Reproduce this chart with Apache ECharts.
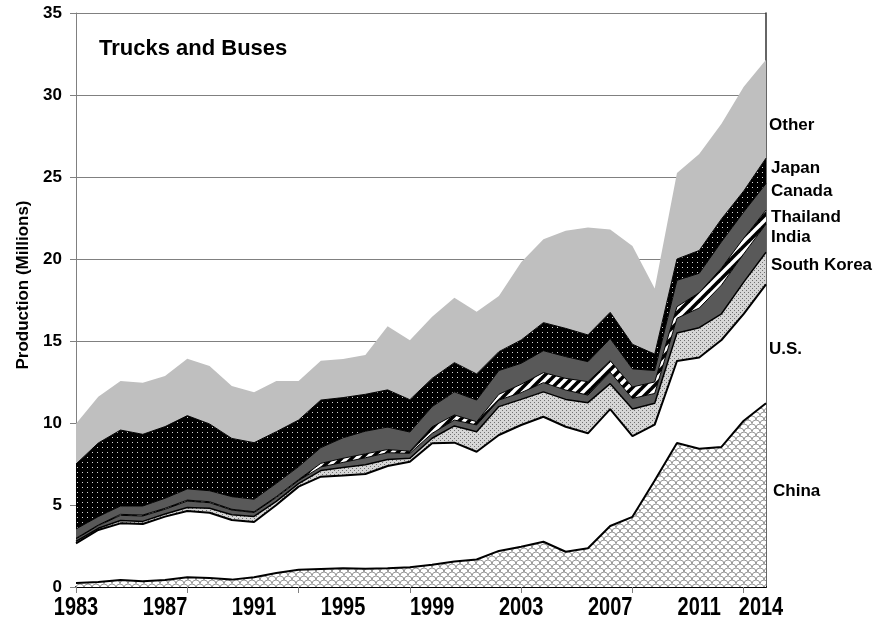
<!DOCTYPE html>
<html>
<head>
<meta charset="utf-8">
<script src="https://cdn.jsdelivr.net/npm/echarts@6/dist/echarts.min.js"></script>
<style>
html,body{margin:0;padding:0;background:#fff;}
#chart{width:876px;height:625px;}
</style>
</head>
<body>
<div id="chart"></div>
<script>
const years = ['1983','1984','1985','1986','1987','1988','1989','1990','1991','1992','1993','1994','1995','1996','1997','1998','1999','2000','2001','2002','2003','2004','2005','2006','2007','2008','2009','2010','2011','2012','2013','2014'];
const xTickLabels = ['1983','1987','1991','1995','1999','2003','2007','2011','2014'];
const yTicks = [0,5,10,15,20,25,30,35];

const china = [0.25,0.30,0.43,0.35,0.42,0.60,0.55,0.45,0.60,0.85,1.05,1.10,1.15,1.12,1.15,1.20,1.35,1.55,1.68,2.20,2.46,2.76,2.15,2.36,3.72,4.28,6.50,8.78,8.43,8.54,10.14,11.20];
const us = [2.41,3.18,3.45,3.49,3.87,4.03,3.98,3.64,3.36,4.15,5.07,5.63,5.65,5.77,6.23,6.44,7.41,7.25,6.57,7.07,7.42,7.62,7.62,7.01,7.13,4.92,3.40,5.00,5.56,6.52,6.52,7.25];
const southKorea = [0.12,0.10,0.17,0.16,0.16,0.22,0.27,0.31,0.34,0.22,0.18,0.37,0.48,0.56,0.39,0.21,0.31,1.02,1.22,1.73,1.56,1.52,1.67,1.87,1.55,1.65,1.30,1.71,1.82,1.60,1.93,1.96];
const india = [0.15,0.16,0.32,0.33,0.29,0.39,0.34,0.29,0.24,0.24,0.19,0.22,0.32,0.43,0.42,0.30,0.30,0.36,0.41,0.40,0.41,0.56,0.57,0.46,0.70,0.65,0.60,0.90,1.20,1.75,1.73,1.72];
const thailand = [0.04,0.04,0.06,0.06,0.06,0.06,0.06,0.05,0.05,0.05,0.06,0.22,0.25,0.24,0.19,0.13,0.40,0.31,0.20,0.35,0.51,0.61,0.71,0.82,0.70,0.70,0.70,0.70,0.94,1.04,0.95,0.85];
const canada = [0.57,0.51,0.51,0.55,0.61,0.68,0.67,0.77,0.76,0.81,0.79,0.96,1.25,1.38,1.37,1.17,1.23,1.41,1.32,1.45,1.28,1.34,1.33,1.22,1.35,1.10,0.70,1.61,1.18,1.60,1.60,1.62];
const japan = [3.96,4.49,4.63,4.37,4.37,4.47,4.07,3.55,3.45,3.15,2.84,2.90,2.45,2.25,2.27,1.97,1.72,1.78,1.59,1.15,1.42,1.71,1.72,1.63,1.60,1.50,1.00,1.30,1.39,1.39,1.28,1.55];
const other = [2.45,2.82,2.99,3.15,3.09,3.47,3.54,3.20,3.08,3.09,2.38,2.40,2.35,2.40,3.88,3.63,3.76,3.96,3.80,3.40,4.74,5.08,5.96,6.55,5.05,6.00,4.00,5.25,5.88,5.81,6.35,6.00];

const seriesNames = ['China','U.S.','South Korea','India','Thailand','Canada','Japan','Other'];

function pattern(w, h, draw) {
  const c = document.createElement('canvas');
  c.width = w; c.height = h;
  const g = c.getContext('2d');
  draw(g, w, h);
  return { image: c, repeat: 'repeat' };
}
const chinaFill = pattern(8, 8, function (g, w, h) {
  g.fillStyle = '#ffffff'; g.fillRect(0, 0, w, h);
  g.strokeStyle = '#8c8c8c'; g.lineWidth = 0.9;
  g.beginPath(); g.arc(4, 8, 4, Math.PI, 2 * Math.PI); g.stroke();
  g.beginPath(); g.arc(0, 4, 4, Math.PI, 2 * Math.PI); g.stroke();
  g.beginPath(); g.arc(8, 4, 4, Math.PI, 2 * Math.PI); g.stroke();
});
const skFill = pattern(4, 4, function (g, w, h) {
  g.fillStyle = '#d6d6d6'; g.fillRect(0, 0, w, h);
  g.fillStyle = '#707070'; g.fillRect(0, 0, 1, 1); g.fillRect(2, 2, 1, 1);
});
const japanFill = pattern(5, 5, function (g, w, h) {
  g.fillStyle = '#000000'; g.fillRect(0, 0, w, h);
  g.fillStyle = '#d8d8d8'; g.fillRect(2, 2, 1, 1);
});
const thaiFill = pattern(10, 10, function (g, w, h) {
  g.fillStyle = '#ffffff'; g.fillRect(0, 0, w, h);
  g.strokeStyle = '#000000'; g.lineWidth = 3.6;
  for (let k = -10; k <= 20; k += 10) {
    g.beginPath(); g.moveTo(k - 2, h + 2); g.lineTo(k + w + 2, -2); g.stroke();
  }
});

const fills = [chinaFill, '#ffffff', skFill, '#595959', thaiFill, '#595959', japanFill, '#bfbfbf'];
const lineWidths = [2, 2, 1.5, 1, 1, 1, 1, 0];
const values = [china, us, southKorea, india, thailand, canada, japan, other];

const chart = echarts.init(document.getElementById('chart'), null, { renderer: 'canvas' });
const FONT = 'Liberation Sans, Arial, sans-serif';

const labelGraphics = [
  { type: 'text', left: 769, top: 117, style: { text: 'Other', font: 'bold 17px ' + FONT, fill: '#000' } },
  { type: 'text', left: 771, top: 160, style: { text: 'Japan', font: 'bold 17px ' + FONT, fill: '#000' } },
  { type: 'text', left: 771, top: 183, style: { text: 'Canada', font: 'bold 17px ' + FONT, fill: '#000' } },
  { type: 'text', left: 771, top: 209, style: { text: 'Thailand', font: 'bold 17px ' + FONT, fill: '#000' } },
  { type: 'text', left: 771, top: 229, style: { text: 'India', font: 'bold 17px ' + FONT, fill: '#000' } },
  { type: 'text', left: 771, top: 257, style: { text: 'South Korea', font: 'bold 17px ' + FONT, fill: '#000' } },
  { type: 'text', left: 769, top: 341, style: { text: 'U.S.', font: 'bold 17px ' + FONT, fill: '#000' } },
  { type: 'text', left: 773, top: 483, style: { text: 'China', font: 'bold 17px ' + FONT, fill: '#000' } }
];

const option = {
  animation: false,
  backgroundColor: '#ffffff',
  title: {
    text: 'Trucks and Buses', left: 94, top: 33,
    textStyle: { fontFamily: FONT, fontWeight: 'bold', fontSize: 22, color: '#000' }
  },
  grid: { left: 76, right: 110, top: 13, bottom: 38, containLabel: false },
  xAxis: {
    type: 'category', data: years, boundaryGap: false,
    axisLine: { show: true, lineStyle: { color: '#000', width: 2 } },
    axisTick: { show: true, length: 6, interval: function (i) { return i % 5 === 0; }, lineStyle: { color: '#808080', width: 1 } },
    axisLabel: { show: false },
    splitLine: { show: false }
  },
  yAxis: [{
    type: 'value', min: 0, max: 35, interval: 5,
    name: 'Production (Millions)', nameLocation: 'middle', nameGap: 44, nameRotate: 90,
    nameTextStyle: { fontFamily: FONT, fontWeight: 'bold', fontSize: 17, color: '#000', padding: [0, 0, 0, 30] },
    axisLine: { show: true, lineStyle: { color: '#808080', width: 1 } },
    axisTick: { show: true, length: 6, lineStyle: { color: '#808080' } },
    axisLabel: { margin: 14, fontFamily: FONT, fontWeight: 'bold', fontSize: 17, color: '#000',
      formatter: function (v) { return yTicks.indexOf(v) >= 0 ? String(v) : ''; } },
    splitLine: { show: true, lineStyle: { color: '#808080', width: 1 } }
  }, {
    type: 'value', min: 0, max: 35, position: 'right',
    axisLine: { show: true, lineStyle: { color: '#333', width: 1.5 } },
    axisTick: { show: false }, axisLabel: { show: false }, splitLine: { show: false }
  }],
  series: seriesNames.map(function (name, k) {
    return {
      name: name, type: 'line', stack: 'total', data: values[k],
      symbol: 'none', smooth: false,
      lineStyle: { color: '#000', width: lineWidths[k] },
      areaStyle: { color: fills[k], opacity: 1 },
      z: 2
    };
  }),
  graphic: labelGraphics
};
chart.setOption(option);

// Condensed bold year labels placed at their category positions
const xLabelGraphics = xTickLabels.map(function (yr) {
  const px = chart.convertToPixel({ xAxisIndex: 0 }, yr);
  const half = 22;
  const cx = Math.min(px, 783 - half);
  return {
    type: 'text', x: cx, y: 596, scaleX: 0.8,
    style: { text: yr, font: 'bold 25px ' + FONT, fill: '#000', align: 'center', verticalAlign: 'top' }
  };
});
chart.setOption({ graphic: labelGraphics.concat(xLabelGraphics) });
</script>
</body>
</html>
